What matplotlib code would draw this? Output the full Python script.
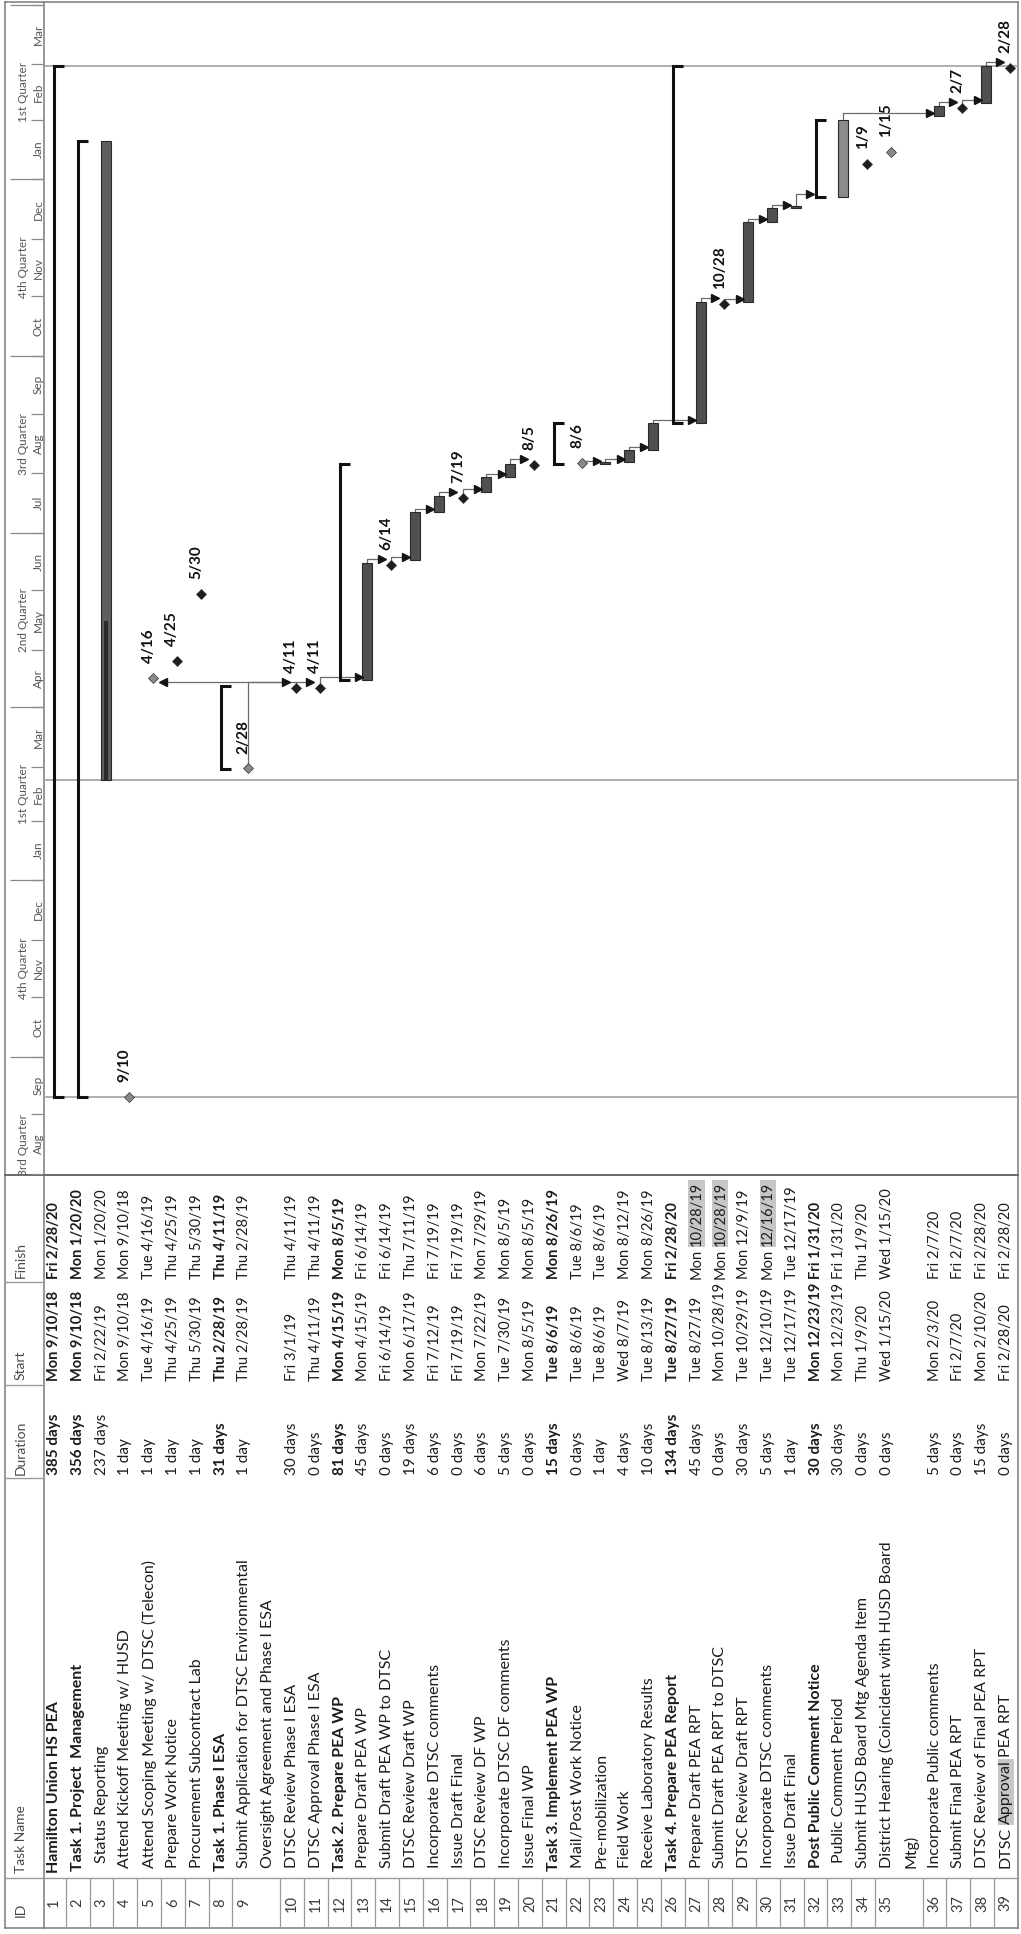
import matplotlib
matplotlib.use("Agg")
import matplotlib.pyplot as plt
import matplotlib.dates as mdates
import pandas as pd

plt.rcParams['font.family'] = ['Lato', 'DejaVu Sans']

# ====================== TABLE DATA ======================
task_ids = list(range(1, 40))
task_names = [
    "Hamilton Union HS PEA",
    "Task 1. Project  Management",
    "Status Reporting",
    "Attend Kickoff Meeting w/ HUSD",
    "Attend Scoping Meeting w/ DTSC (Telecon)",
    "Prepare Work Notice",
    "Procurement Subcontract Lab",
    "Task 1. Phase I ESA",
    "Submit Application for DTSC Environmental\nOversight Agreement and Phase I ESA",
    "DTSC Review Phase I ESA",
    "DTSC Approval Phase I ESA",
    "Task 2. Prepare PEA WP",
    "Prepare Draft PEA WP",
    "Submit Draft PEA WP to DTSC",
    "DTSC Review Draft WP",
    "Incorporate DTSC comments",
    "Issue Draft Final",
    "DTSC Review DF WP",
    "Incorporate DTSC DF comments",
    "Issue Final WP",
    "Task 3. Implement PEA WP",
    "Mail/Post Work Notice",
    "Pre-mobilization",
    "Field Work",
    "Receive Laboratory Results",
    "Task 4. Prepare PEA Report",
    "Prepare Draft PEA RPT",
    "Submit Draft PEA RPT to DTSC",
    "DTSC Review Draft RPT",
    "Incorporate DTSC comments",
    "Issue Draft Final",
    "Post Public Comment Notice",
    "Public Comment Period",
    "Submit HUSD Board Mtg Agenda Item",
    "District Hearing (Coincident with HUSD Board\nMtg)",
    "Incorporate Public comments",
    "Submit Final PEA RPT",
    "DTSC Review of Final PEA RPT",
    "DTSC Approval PEA RPT",
]
durations = [
    "385 days", "356 days", "237 days", "1 day", "1 day", "1 day", "1 day",
    "31 days", "1 day", "30 days", "0 days", "81 days", "45 days", "0 days",
    "19 days", "6 days", "0 days", "6 days", "5 days", "0 days", "15 days",
    "0 days", "1 day", "4 days", "10 days", "134 days", "45 days", "0 days",
    "30 days", "5 days", "1 day", "30 days", "30 days", "0 days", "0 days",
    "5 days", "0 days", "15 days", "0 days",
]
starts = [
    "Mon 9/10/18", "Mon 9/10/18", "Fri 2/22/19", "Mon 9/10/18", "Tue 4/16/19",
    "Thu 4/25/19", "Thu 5/30/19", "Thu 2/28/19", "Thu 2/28/19", "Fri 3/1/19",
    "Thu 4/11/19", "Mon 4/15/19", "Mon 4/15/19", "Fri 6/14/19", "Mon 6/17/19",
    "Fri 7/12/19", "Fri 7/19/19", "Mon 7/22/19", "Tue 7/30/19", "Mon 8/5/19",
    "Tue 8/6/19", "Tue 8/6/19", "Tue 8/6/19", "Wed 8/7/19", "Tue 8/13/19",
    "Tue 8/27/19", "Tue 8/27/19", "Mon 10/28/19", "Tue 10/29/19", "Tue 12/10/19",
    "Tue 12/17/19", "Mon 12/23/19", "Mon 12/23/19", "Thu 1/9/20", "Wed 1/15/20",
    "Mon 2/3/20", "Fri 2/7/20", "Mon 2/10/20", "Fri 2/28/20",
]
finishes = [
    "Fri 2/28/20", "Mon 1/20/20", "Mon 1/20/20", "Mon 9/10/18", "Tue 4/16/19",
    "Thu 4/25/19", "Thu 5/30/19", "Thu 4/11/19", "Thu 2/28/19", "Thu 4/11/19",
    "Thu 4/11/19", "Mon 8/5/19", "Fri 6/14/19", "Fri 6/14/19", "Thu 7/11/19",
    "Fri 7/19/19", "Fri 7/19/19", "Mon 7/29/19", "Mon 8/5/19", "Mon 8/5/19",
    "Mon 8/26/19", "Tue 8/6/19", "Tue 8/6/19", "Mon 8/12/19", "Mon 8/26/19",
    "Fri 2/28/20", "Mon 10/28/19", "Mon 10/28/19", "Mon 12/9/19", "Mon 12/16/19",
    "Tue 12/17/19", "Fri 1/31/20", "Fri 1/31/20", "Thu 1/9/20", "Wed 1/15/20",
    "Fri 2/7/20", "Fri 2/7/20", "Fri 2/28/20", "Fri 2/28/20",
]
outline_level = [0, 1, 3, 2, 2, 2, 2, 1, 2, 2, 2, 1, 2, 2, 2, 2, 2, 2, 2, 2,
                 1, 2, 2, 2, 2, 1, 2, 2, 2, 2, 2, 2, 3, 2, 2, 2, 2, 2, 2]
bold_rows = [1, 2, 8, 12, 21, 26, 32]
shaded_finish = [27, 28, 30]
shaded_name = {39: ("DTSC", "Approval", "PEA RPT")}

# ====================== GANTT DATA ======================
bar_kind = [
    "summary", "summary", "task", "milestone", "milestone", "milestone", "milestone",
    "summary", "milestone", "milestone", "milestone", "summary", "task", "milestone",
    "task", "task", "milestone", "task", "task", "milestone", "summary",
    "milestone", "task", "task", "task", "summary", "task", "milestone",
    "task", "task", "task", "summary", "task", "milestone", "milestone",
    "task", "milestone", "task", "milestone",
]
gray_milestones = [4, 5, 9, 22, 35]
light_bars = [33]
progress_until = {3: "2019-05-16"}
links = [(9, 10), (10, 5), (10, 11), (11, 13), (13, 14), (14, 15), (15, 16),
         (16, 17), (17, 18), (18, 19), (19, 20), (22, 23), (23, 24), (24, 25),
         (25, 27), (27, 28), (28, 29), (29, 30), (30, 31), (31, 32), (33, 36),
         (36, 37), (37, 38), (38, 39)]
date_lines = ["2018-09-10", "2019-02-22", "2020-02-29"]

month_labels = ["Aug", "Sep", "Oct", "Nov", "Dec", "Jan", "Feb", "Mar", "Apr", "May",
                "Jun", "Jul", "Aug", "Sep", "Oct", "Nov", "Dec", "Jan", "Feb", "Mar"]
quarter_labels = ["3rd Quarter", "4th Quarter", "1st Quarter", "2nd Quarter",
                  "3rd Quarter", "4th Quarter", "1st Quarter"]

# ====================== LAYOUT ======================
W, H = 1021, 1934
X0, PITCH = 42.0, 23.8          # left edge of row 1, row pitch (px)
Y_ANCHOR, PX_DAY = 356.0, 1.92  # 1 Oct 2019 sits at y=356 px
ANCHOR = mdates.date2num(pd.Timestamp("2019-10-01"))
TIME_TOP, TIME_BOTTOM = 2, 1175
GRID_RIGHT = 1018
COLS = {"Finish": (1175, 1282), "Start": (1282, 1385), "Duration": (1385, 1478),
        "Task Name": (1478, 1878), "ID": (1878, 1928)}
TEXT_COLOR = "#1c1c1c"
FS_NAME, FS_DUR, FS_DATE = 11.5, 11, 10.5


def parse(s):
    return pd.to_datetime(s.split()[1], format="%m/%d/%y")


def date_at(px):
    return ANCHOR + (Y_ANCHOR - px) / PX_DAY


def slot(n):
    return n - 1 + (n > 9) + (n > 35)


def row_x(n):
    return slot(n) + 0.5


start_num = {n: mdates.date2num(parse(s)) for n, s in zip(task_ids, starts)}
finish_num = {n: mdates.date2num(parse(s)) for n, s in zip(task_ids, finishes)}
kind = dict(zip(task_ids, bar_kind))

fig = plt.figure(figsize=(W / 100, H / 100), dpi=100, facecolor="white")


def px_axes(x0, y0, x1, y1, zorder=1):
    ax = fig.add_axes([x0 / W, 1 - y1 / H, (x1 - x0) / W, (y1 - y0) / H])
    ax.set_axis_off()
    ax.set_zorder(zorder)
    return ax


# ---------- frame lines ----------
fr = px_axes(0, 0, W, H, 0)
fr.set_xlim(0, W)
fr.set_ylim(H, 0)
line_kw = dict(color="#7a7a7a", lw=1.1)
fr.plot([5, 5], [2, 1928], **line_kw)
fr.plot([GRID_RIGHT, GRID_RIGHT], [2, 1928], **line_kw)
fr.plot([5, GRID_RIGHT], [2, 2], **line_kw)
fr.plot([5, GRID_RIGHT], [1928, 1928], **line_kw)
fr.plot([43.5, 43.5], [2, 1928], **line_kw)
fr.plot([5, GRID_RIGHT], [TIME_BOTTOM, TIME_BOTTOM], color="#6a6a6a", lw=1.4)
fr.plot([5, GRID_RIGHT], [1878, 1878], color="#9a9a9a", lw=1.0)
for y in (1282, 1385, 1478):
    fr.plot([5, 43.5], [y, y], color="#9a9a9a", lw=1.0)

# ---------- timescale header ----------
tsx = px_axes(5, TIME_TOP, 43.5, TIME_BOTTOM, 2)
tsx.set_xlim(5, 43.5)
tsx.set_ylim(date_at(TIME_BOTTOM), date_at(TIME_TOP))
month_edges = mdates.date2num(pd.date_range("2018-08-01", periods=len(month_labels) + 1, freq="MS"))
quarter_edges = mdates.date2num(pd.date_range("2018-07-01", periods=len(quarter_labels) + 1, freq="QS"))
tsx.hlines(month_edges, 31, 43.5, color="#8a8a8a", lw=0.9)
tsx.hlines(quarter_edges, 10, 43.5, color="#8a8a8a", lw=0.9)
for lab, a, b in zip(month_labels, month_edges[:-1], month_edges[1:]):
    tsx.text(38, (a + b) / 2, lab, rotation=90, rotation_mode="anchor", ha="center",
             va="center", fontsize=8.5, color="#555555", clip_box=tsx.bbox, clip_on=True)
for lab, a, b in zip(quarter_labels, quarter_edges[:-1], quarter_edges[1:]):
    tsx.text(23.5, (a + b) / 2, lab, rotation=90, rotation_mode="anchor", ha="center",
             va="center", fontsize=8.5, color="#555555", clip_box=tsx.bbox, clip_on=True)

# ---------- gantt area ----------
gx = px_axes(43.5, TIME_TOP, GRID_RIGHT, TIME_BOTTOM, 2)
gx.set_xlim((43.5 - X0) / PITCH, (GRID_RIGHT - X0) / PITCH)
gx.set_ylim(date_at(TIME_BOTTOM), date_at(TIME_TOP))

for d in date_lines:
    gx.axhline(mdates.date2num(pd.Timestamp(d)), color="#a8a8a8", lw=1.3, zorder=1)

BAR_OFF = 4 / PITCH
BAR_W = 10 / PITCH
CAP = 10 / PITCH


def bar_x(n):
    return row_x(n) + BAR_OFF


def ms_y(n):
    return finish_num[n] + 0.25


for n in task_ids:
    k = kind[n]
    y0, y1 = start_num[n], finish_num[n] + 1
    if k == "summary":
        x = row_x(n)
        gx.plot([x, x], [y0, y1], color="#111111", lw=2.2, solid_capstyle="projecting", zorder=3)
        for yy in (y0, y1):
            gx.plot([x, x + CAP], [yy, yy], color="#111111", lw=2.2, solid_capstyle="butt", zorder=3)
    elif k == "task":
        fc = "#8c8c8c" if n in light_bars else ("#5e5e5e" if n in progress_until else "#505050")
        gx.bar(bar_x(n), y1 - y0, bottom=y0, width=BAR_W, color=fc, edgecolor="#2a2a2a",
               linewidth=0.8, zorder=3)
        if n in progress_until:
            p = mdates.date2num(pd.Timestamp(progress_until[n]))
            gx.bar(bar_x(n), p - y0, bottom=y0, width=BAR_W * 0.4, color="#2b2b2b", zorder=4)
    else:
        col = "#8a8a8a" if n in gray_milestones else "#1e1e1e"
        gx.plot(bar_x(n), ms_y(n), marker="D", ms=5.6, color=col, mec="#333333", mew=0.5,
                zorder=5, clip_on=False)
        d = parse(finishes[n - 1])
        gx.annotate(f"{d.month}/{d.day}", xy=(bar_x(n), ms_y(n)), xytext=(-3.2, 10.5),
                    textcoords="offset points", rotation=90, rotation_mode="anchor",
                    ha="left", va="center", fontsize=11, fontweight="bold", color="#111111",
                    zorder=6)

# dependency links (finish-to-start)
for p, s in links:
    xp = bar_x(p)
    ye = ms_y(p) if kind[p] == "milestone" else finish_num[p] + 1
    if kind[s] == "milestone":
        yt = ms_y(s) + 6 / PX_DAY
        xt = bar_x(s) - 6 / PITCH
    elif kind[s] == "summary":
        yt = start_num[s] + 3 / PX_DAY
        xt = row_x(s) - 2 / PITCH
    else:
        yt = start_num[s] + 3 / PX_DAY
        xt = bar_x(s) - BAR_W / 2
    step = 1
    if xt < xp:
        step = -1
        xt = bar_x(s) + 6 / PITCH
        yt = ms_y(p) + 6 / PX_DAY
    xa = xt - step * 3.5 / PITCH
    ytop = max(ye, yt)
    gx.plot([xp, xp, xa], [ye, ytop, yt] if ytop == yt else [yt, yt, yt],
            color="#6b6b6b", lw=0.9, zorder=2)
    gx.plot(xa, yt, marker=">" if step > 0 else "<", ms=5.5, color="#151515", zorder=4)

# ---------- table header band ----------
hb = px_axes(5, TIME_BOTTOM, 43.5, 1928, 2)
hb.set_xlim(5, 43.5)
hb.set_ylim(1928, TIME_BOTTOM)
header_starts = {"Finish": 1278, "Start": 1380, "Duration": 1475, "Task Name": 1873, "ID": 1917}
for lab, y in header_starts.items():
    hb.text(21, y, lab, rotation=90, rotation_mode="anchor", ha="left", va="center",
            fontsize=10, color="#4a4a4a")

# ---------- table columns ----------
col_ax = {}
for name, (y0, y1) in COLS.items():
    ax = px_axes(43.5, y0, GRID_RIGHT, y1, 2)
    ax.set_xlim((43.5 - X0) / PITCH, (GRID_RIGHT - X0) / PITCH)
    ax.set_ylim(y1, y0)
    col_ax[name] = ax

txt_kw = dict(rotation=90, rotation_mode="anchor", ha="left", va="center", color=TEXT_COLOR)


def put(ax, x, y, s, weight, size):
    return ax.text(x, y, s, fontweight=weight, fontsize=size, clip_box=ax.bbox,
                   clip_on=True, **txt_kw)


def chain(ax, prev, s, weight, size, shade):
    box = dict(facecolor="#c6c6c6", edgecolor="none", pad=0.8) if shade else None
    t = ax.annotate(s, xy=(0.5, 1.0), xycoords=prev, xytext=(0, 2.3),
                    textcoords="offset points", fontweight=weight, fontsize=size,
                    bbox=box, **txt_kw)
    t.set_clip_box(ax.bbox)
    return t


for n in task_ids:
    x = row_x(n)
    w = "bold" if n in bold_rows else "normal"
    # ID
    col_ax["ID"].text(x, 1903, str(n), rotation=90, rotation_mode="anchor", ha="center",
                      va="center", fontsize=10.5, color="#3a3a3a")
    # Task name
    ax = col_ax["Task Name"]
    ys = 1873 - [0, 2, 5, 10][outline_level[n - 1]]
    if n in shaded_name:
        a, b, c = shaded_name[n]
        t1 = put(ax, x, ys, a, w, FS_NAME)
        t2 = chain(ax, t1, b, w, FS_NAME, True)
        chain(ax, t2, c, w, FS_NAME, False)
    else:
        for j, line in enumerate(task_names[n - 1].split("\n")):
            put(ax, x + j, ys, line, w, FS_NAME)
    put(col_ax["Duration"], x, 1475, durations[n - 1], w, FS_DUR)
    put(col_ax["Start"], x, 1381, starts[n - 1], w, FS_DATE)
    if n in shaded_finish:
        day_name, date_txt = finishes[n - 1].split()
        t1 = put(col_ax["Finish"], x, 1279, day_name, w, FS_DATE)
        chain(col_ax["Finish"], t1, date_txt, w, FS_DATE, True)
    else:
        put(col_ax["Finish"], x, 1279, finishes[n - 1], w, FS_DATE)

# ID row separators
id_ax = col_ax["ID"]
sep = [slot(n) for n in task_ids[1:]] + [slot(39) + 1]
id_ax.vlines(sep, 1878, 1928, color="#9a9a9a", lw=0.9)

fig.savefig("out.png", dpi=100, facecolor="white")
